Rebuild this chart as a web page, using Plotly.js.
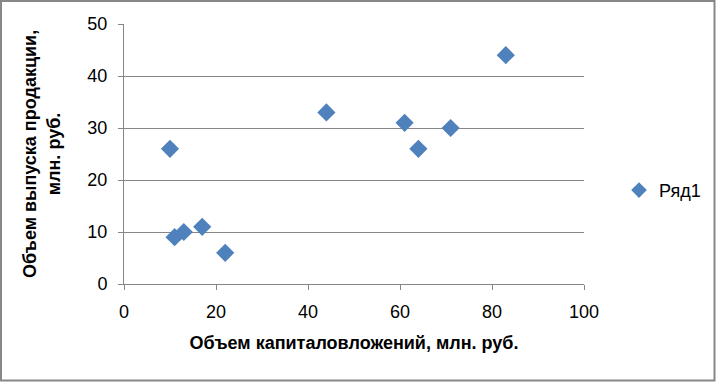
<!DOCTYPE html>
<html>
<head>
<meta charset="utf-8">
<script src="https://cdn.plot.ly/plotly-3.0.1.min.js"></script>
<style>html,body{margin:0;padding:0;background:#fff;}#chart{width:716px;height:382px;}</style>
</head>
<body>
<div id="chart"></div>
<script>
const xValues = [10, 11, 13, 17, 22, 44, 61, 64, 71, 83];
const yValues = [26, 9, 10, 11, 6, 33, 31, 26, 30, 44];
const seriesName = "Ряд1";
const xTitle = "Объем капиталовложений, млн. руб.";
const yTitle = "Объем выпуска продакции,<br>млн. руб.";

const FONT = "Liberation Sans, Arial, sans-serif";
const trace = {
  x: xValues, y: yValues, name: seriesName,
  type: "scatter", mode: "markers",
  marker: {symbol: "diamond", size: 14, color: "#4F81BD", line: {width: 0}},
  showlegend: true
};

const layout = {
  width: 716, height: 382,
  margin: {l: 124, r: 132, t: 24, b: 98, autoexpand: false},
  paper_bgcolor: "#fff", plot_bgcolor: "#fff",
  font: {family: FONT, size: 18, color: "#000"},
  xaxis: {
    range: [0, 100], dtick: 20, tick0: 0,
    showgrid: false, zeroline: false,
    showline: true, linecolor: "#868686", linewidth: 1,
    ticks: "outside", ticklen: 5, tickcolor: "#868686",
    tickfont: {size: 18, family: FONT},
    ticklabelstandoff: 6, automargin: false,
    title: {text: xTitle, font: {size: 18, family: FONT, weight: "bold"}, standoff: 15}
  },
  yaxis: {
    range: [0, 50], dtick: 10, tick0: 0,
    showgrid: true, gridcolor: "#868686", gridwidth: 1,
    zeroline: false,
    showline: true, linecolor: "#868686", linewidth: 1,
    ticks: "outside", ticklen: 5, tickcolor: "#868686",
    tickfont: {size: 18, family: FONT},
    ticklabelstandoff: 7, automargin: false,
    title: {text: yTitle, font: {size: 18, family: FONT, weight: "bold"}, standoff: 22}
  },
  legend: {
    x: 1 + 35/460, xanchor: "left",
    y: 0.36, yanchor: "middle",
    font: {size: 18, family: FONT}, bgcolor: "rgba(0,0,0,0)",
    itemwidth: 30, itemsizing: "constant"
  },
  shapes: [{
    type: "rect", xref: "paper", yref: "paper",
    x0: (1 - 124)/460, x1: (714.5 - 124)/460, y0: (284 - 380.5)/260, y1: (284 - 1)/260,
    line: {color: "#878787", width: 2}
  }]
};

Plotly.newPlot("chart", [trace], layout, {displayModeBar: false, staticPlot: true});
</script>
</body>
</html>
